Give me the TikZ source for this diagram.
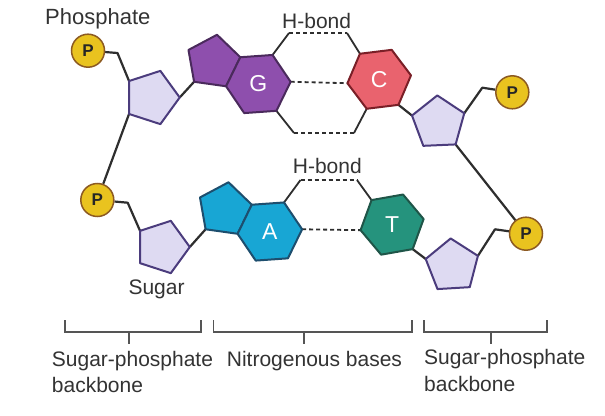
\documentclass[tikz,border=0pt]{standalone}
\usepackage{fontspec}
\setmainfont{Liberation Sans}
\usetikzlibrary{calc,backgrounds}
\definecolor{sugfill}{HTML}{DEDAF2}
\definecolor{sugdraw}{HTML}{4B3C7D}
\definecolor{gfill}{HTML}{8E4FAD}
\definecolor{gdraw}{HTML}{4A2A5C}
\definecolor{cfill}{HTML}{E9636E}
\definecolor{cdraw}{HTML}{7A1F27}
\definecolor{afill}{HTML}{18A6D4}
\definecolor{adraw}{HTML}{1D4E6E}
\definecolor{tfill}{HTML}{25937D}
\definecolor{tdraw}{HTML}{1F5548}
\definecolor{pfill}{HTML}{E9C31F}
\definecolor{pdraw}{HTML}{8C5A22}
\definecolor{txt}{HTML}{333333}
\definecolor{bond}{HTML}{2E2E2E}
\definecolor{brkcol}{HTML}{555555}

% name, centre, radius, start angle, sides, style
\newcommand\mypoly[6]{%
  \foreach \k in {1,...,#5}{\coordinate (#1\k) at ($(#2)+({#4+360/#5*(\k-1)}:{#3})$);}
  \path[#6] (#11) \foreach \k in {2,...,#5}{ -- (#1\k)} -- cycle;
}
% name, pentagon centre, radius, start angle, style
\newcommand\mypurine[5]{%
  \mypoly{#1p}{#2}{#3}{#4}{5}{#5}
  \coordinate (#1h) at ($(#2)+({#4+108}:{1.827*#3})$);
  \mypoly{#1h}{#1h}{1.1756*#3}{#4+258}{6}{#5}
}

\begin{document}
\begin{tikzpicture}[x=1pt,y=-1pt,
  sugar/.style={draw=sugdraw,fill=sugfill,line width=2pt,line join=round},
  gshape/.style={draw=gdraw,fill=gfill,line width=2pt,line join=round},
  cshape/.style={draw=cdraw,fill=cfill,line width=2pt,line join=round},
  ashape/.style={draw=adraw,fill=afill,line width=2pt,line join=round},
  tshape/.style={draw=tdraw,fill=tfill,line width=2pt,line join=round},
  link/.style={draw=bond,line width=2.2pt,line join=round},
  bondline/.style={draw=bond,line width=1.8pt},
  hb/.style={draw=bond,line width=1.8pt,dash pattern=on 4pt off 3pt},
  pnode/.style={circle,draw=pdraw,fill=pfill,line width=1.5pt,minimum size=33pt,inner sep=0pt,
    font=\fontsize{17}{17}\bfseries\selectfont,text=black!85},
  lbl/.style={font=\fontsize{21}{26.7}\selectfont,text=txt,inner sep=0pt,anchor=base west,align=left},
  letter/.style={font=\fontsize{23}{23}\selectfont,text=white,inner sep=0pt},
  brk/.style={draw=brkcol,line width=1.6pt}
]
\useasboundingbox (0,0) rectangle (605,415);

% centres
\coordinate (s1c) at (151.7,97.5);
\coordinate (s2c) at (438.5,122.9);
\coordinate (s3c) at (162.3,247);
\coordinate (s4c) at (452.3,265.9);
\coordinate (gc) at (213.2,62);
\coordinate (ac) at (224.7,209.5);
\coordinate (cc) at (379.2,79.3);
\coordinate (tc) at (392.1,224.6);

% shapes
\mypoly{s1v}{s1c}{28}{0}{5}{sugar}
\mypoly{s2v}{s2c}{27.5}{-92.5}{5}{sugar}
\mypoly{s3v}{s3c}{27.5}{0}{5}{sugar}
\mypoly{s4v}{s4c}{27.5}{-93.4}{5}{sugar}
\mypurine{g}{gc}{27.5}{-82}{gshape}
\mypurine{a}{ac}{27.5}{-82}{ashape}
\mypoly{c}{cc}{32}{173}{6}{cshape}
\mypoly{t}{tc}{32}{170}{6}{tshape}

\node[letter] (gl) at (gh) {G};
\node[letter] (cl) at (cc) {C};
\node[letter] (al) at (ah) {A};
\node[letter] (tl) at (tc) {T};

% phosphates
\node[pnode] (p1) at (88,50.7) {P};
\node[pnode] (p2) at (512.3,92.3) {P};
\node[pnode] (p3) at (97.3,200) {P};
\node[pnode] (p4) at (526,233.7) {P};

% bend points
\coordinate (k1) at (117.5,53);
\coordinate (k2) at (482.3,87.7);
\coordinate (k3) at (127.7,202.7);
\coordinate (k4) at (495,229.3);
\coordinate (gb1) at (289,33);
\coordinate (gb2) at (347,33);
\coordinate (gb3) at (294,133);
\coordinate (gb4) at (354,133);
\coordinate (ab1) at (300.5,180);
\coordinate (ab2) at (357,180);

\begin{scope}[on background layer]
  \fill[white] (0,0) rectangle (605,415);
  \draw[link] (p1) -- (k1) -- (s1v4);
  \draw[link] (s1v3) -- (p3);
  \draw[link] (s1v1) -- (gp4);
  \draw[link] (p3) -- (k3) -- (s3v4);
  \draw[link] (s3v1) -- (ap4);
  \draw[link] (c5) -- (s2v5);
  \draw[link] (s2v2) -- (k2) -- (p2);
  \draw[link] (s2v3) -- (p4);
  \draw[link] (t5) -- (s4v5);
  \draw[link] (s4v2) -- (k4) -- (p4);
  % hydrogen bonds G-C
  \draw[bondline] (gh3) -- (gb1);
  \draw[hb] (gb1) -- (gb2);
  \draw[bondline] (gb2) -- (c2);
  \draw[hb] (gh4) -- (c1);
  \draw[bondline] (gh5) -- (gb3);
  \draw[hb] (gb3) -- (gb4);
  \draw[bondline] (gb4) -- (c6);
  % hydrogen bonds A-T
  \draw[bondline] (ah3) -- (ab1);
  \draw[hb] (ab1) -- (ab2);
  \draw[bondline] (ab2) -- (t2);
  \draw[hb] (ah4) -- (t1);
\end{scope}

% labels
\node[lbl,font=\fontsize{22}{26}\selectfont] (lphos) at (45,24) {Phosphate};
\node[lbl] (lhb1) at (282,28.3) {H-bond};
\node[lbl] (lhb2) at (292.7,173.3) {H-bond};
\node[lbl] (lsug) at (128.3,294.5) {Sugar};

% brackets
\draw[brk] (65,320) -- (65,332) -- (201,332) -- (201,320);
\draw[brk] (129,332) -- (129,344.3);
\draw[brk] (213.3,320) -- (213.3,332) -- (411.7,332) -- (411.7,320);
\draw[brk] (304,332) -- (304,344.3);
\draw[brk] (424,320) -- (424,332) -- (546.7,332) -- (546.7,320);
\draw[brk] (490.7,332) -- (490.7,344.3);

\node[lbl] (lbb1) at (51.7,392.7) {Sugar-phosphate\\backbone};
\node[lbl] (lnb) at (226.7,366) {Nitrogenous bases};
\node[lbl] (lbb2) at (424,391) {Sugar-phosphate\\backbone};
\end{tikzpicture}
\end{document}
